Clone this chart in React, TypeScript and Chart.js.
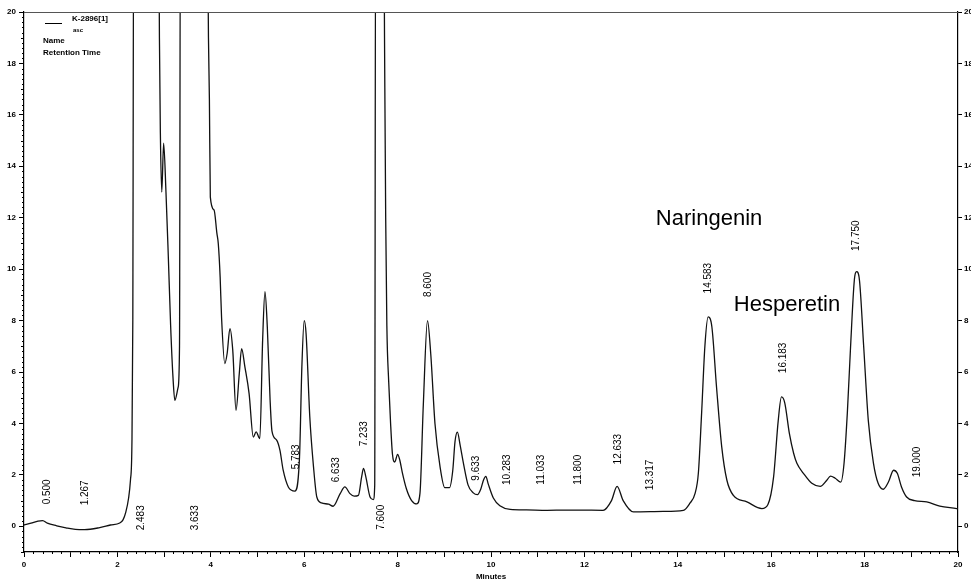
import { useEffect, useRef } from 'react';
import { Chart, registerables } from 'chart.js';

Chart.register(...registerables);

// Retention time (minutes) and detector signal
const times = [
  0, 0.15, 0.3, 0.4, 0.5, 0.7, 0.9, 1.1, 1.3, 1.6, 1.85, 2.05, 2.12, 2.18, 2.24, 2.28, 2.31, 2.33, 2.35,
  2.88, 2.9, 2.92, 2.95, 2.99, 3.04, 3.09, 3.14, 3.19, 3.23, 3.3, 3.33, 3.35,
  3.92, 3.95, 3.97, 3.99, 4.07, 4.13, 4.16, 4.2, 4.23, 4.3, 4.35, 4.41, 4.47, 4.54, 4.61, 4.66, 4.73, 4.82,
  4.91, 4.97, 5.05, 5.11, 5.16, 5.21, 5.27, 5.31, 5.41, 5.48, 5.55, 5.66, 5.8, 5.9, 5.95, 6.0, 6.04, 6.12,
  6.2, 6.27, 6.37, 6.52, 6.62, 6.77, 6.87, 6.98, 7.07, 7.16, 7.23, 7.27, 7.32, 7.41, 7.48, 7.51, 7.53,
  7.7, 7.72, 7.745, 7.77, 7.81, 7.85, 7.89, 7.94, 8.0, 8.05, 8.1, 8.19, 8.3, 8.41, 8.48, 8.55, 8.64, 8.71,
  8.8, 8.91, 9.01, 9.11, 9.18, 9.23, 9.28, 9.34, 9.41, 9.51, 9.62, 9.71, 9.78, 9.84, 9.89, 9.94, 10.05,
  10.19, 10.41, 10.76, 11.2, 11.6, 11.9, 12.4, 12.58, 12.7, 12.83, 13.05, 13.69, 14.12, 14.26, 14.37,
  14.44, 14.51, 14.58, 14.65, 14.73, 14.83, 14.94, 15.05, 15.19, 15.48, 15.8, 15.93, 16.05, 16.15, 16.22,
  16.29, 16.39, 16.48, 16.55, 16.69, 16.87, 17.05, 17.19, 17.27, 17.37, 17.49, 17.56, 17.63, 17.7, 17.78,
  17.83, 17.89, 17.98, 18.08, 18.19, 18.29, 18.4, 18.51, 18.62, 18.7, 18.79, 18.9, 19.07, 19.33, 19.61,
  19.97, 20,
];
const signal = [
  0.05, 0.12, 0.2, 0.22, 0.12, 0.02, -0.06, -0.12, -0.13, -0.06, 0.05, 0.13, 0.25, 0.55, 1.1, 1.8, 3.1, 8, 25,
  25, 19, 15.3, 13.0, 14.9, 13.0, 10.5, 7.8, 5.8, 4.9, 5.4, 7.0, 25,
  25, 19, 16.6, 12.8, 12.3, 11.4, 11.0, 9.7, 8.14, 6.33, 6.72, 7.69, 6.85, 4.51, 5.94, 6.91, 6.2, 5.16,
  3.47, 3.67, 3.41, 7.24, 9.12, 7.75, 4.9, 3.7, 3.35, 2.96, 2.18, 1.53, 1.37, 2.7, 6.2, 8.0, 7.5, 4.25,
  2.3, 1.14, 0.91, 0.86, 0.78, 1.27, 1.53, 1.27, 1.17, 1.2, 1.92, 2.25, 1.92, 1.14, 1.04, 1.6, 25,
  25, 19, 12, 7.8, 5.6, 4.0, 2.8, 2.5, 2.8, 2.55, 2.1, 1.45, 1.0, 0.87, 1.3, 4.7, 8.0, 6.7,
  4.0, 2.3, 1.5, 1.5, 2.15, 3.3, 3.66, 3.15, 2.45, 1.6, 1.3, 1.23, 1.44, 1.8, 1.94, 1.65, 1.1,
  0.8, 0.66, 0.64, 0.62, 0.63, 0.63, 0.62, 1.0, 1.55, 1.0, 0.56, 0.58, 0.62, 0.9, 1.28,
  2.06, 4.4, 7.0, 8.14, 7.75, 5.4, 3.1, 1.8, 1.2, 0.95, 0.69, 0.85, 1.9, 4.1, 5.03,
  4.8, 3.6, 2.84, 2.45, 2.06, 1.67, 1.55, 1.79, 1.95, 1.87, 1.72, 2.45, 4.4, 7.0, 9.57,
  9.9, 9.57, 7.0, 4.1, 2.45, 1.67, 1.44, 1.72, 2.18, 2.06, 1.53, 1.14, 1.0, 0.95, 0.78,
  0.69, 0.68,
];

// Retention-time annotations
const peakLabels = ['0.500', '1.267', '2.483', '3.633', '5.783', '6.633', '7.233', '7.600', '8.600', '9.633',
  '10.283', '11.033', '11.800', '12.633', '13.317', '14.583', '16.183', '17.750', '19.000'];
const peakLabelTimes = [0.49, 1.31, 2.52, 3.66, 5.82, 6.68, 7.28, 7.66, 8.66, 9.68,
  10.34, 11.07, 11.86, 12.73, 13.4, 14.65, 16.26, 17.83, 19.12];
const peakLabelLevels = [1.34, 1.3, 0.33, 0.33, 2.7, 2.2, 3.6, 0.35, 9.4, 2.26,
  2.2, 2.2, 2.2, 3.0, 2.0, 9.65, 6.55, 11.3, 2.5];

// Compound names
const compoundNames = ['Naringenin', 'Hesperetin'];
const compoundTimes = [13.53, 15.2];
const compoundLevels = [11.71, 8.37];

// Axis ticks
const xTickValues = Array.from({ length: 21 }, (_, i) => i);
const yTickValues = [0, 2, 4, 6, 8, 10, 12, 14, 16, 18, 20];
const yMin = -1;
const yMax = 20;

const FONT = 'Arial, "Liberation Sans", sans-serif';

const decorPlugin = {
  id: 'decor',
  afterDraw(chart: any) {
    const { ctx, chartArea, scales } = chart;
    const xs = scales.x;
    const yl = scales.y;
    ctx.save();
    // top frame
    ctx.strokeStyle = '#555';
    ctx.lineWidth = 1;
    ctx.beginPath();
    ctx.moveTo(chartArea.left, chartArea.top + 0.5);
    ctx.lineTo(chartArea.right, chartArea.top + 0.5);
    ctx.stroke();
    // minor ticks
    ctx.strokeStyle = '#000';
    ctx.beginPath();
    for (let i = 0; i <= 100; i++) {
      if (i % 5 === 0) continue;
      const px = Math.round(xs.getPixelForValue(i * 0.2)) + 0.5;
      ctx.moveTo(px, chartArea.bottom);
      ctx.lineTo(px, chartArea.bottom + 2);
    }
    for (let i = -5; i <= 100; i++) {
      if (i % 10 === 0) continue;
      const py = Math.round(yl.getPixelForValue(i * 0.2)) + 0.5;
      const len = i % 5 === 0 ? 3 : 2;
      ctx.moveTo(chartArea.left - len, py);
      ctx.lineTo(chartArea.left, py);
    }
    ctx.stroke();

    // peak retention-time labels
    ctx.fillStyle = '#000';
    ctx.font = `10px ${FONT}`;
    ctx.textAlign = 'center';
    ctx.textBaseline = 'middle';
    peakLabels.forEach((txt, i) => {
      const px = xs.getPixelForValue(peakLabelTimes[i]);
      const py = yl.getPixelForValue(peakLabelLevels[i]);
      ctx.save();
      ctx.translate(px, py);
      ctx.rotate(-Math.PI / 2);
      ctx.fillText(txt, 0, 0);
      ctx.restore();
    });

    // compound names
    ctx.font = `22px ${FONT}`;
    ctx.textAlign = 'left';
    ctx.textBaseline = 'alphabetic';
    compoundNames.forEach((name, i) => {
      ctx.fillText(name, xs.getPixelForValue(compoundTimes[i]), yl.getPixelForValue(compoundLevels[i]));
    });

    // legend block
    const lx = chartArea.left + 21;
    ctx.beginPath();
    ctx.moveTo(lx, chartArea.top + 11.5);
    ctx.lineTo(lx + 17, chartArea.top + 11.5);
    ctx.stroke();
    ctx.font = `bold 8px ${FONT}`;
    ctx.textBaseline = 'middle';
    ctx.fillText('K-2896[1]', lx + 27, chartArea.top + 7);
    ctx.font = `bold 6px ${FONT}`;
    ctx.fillText('asc', lx + 28, chartArea.top + 18);
    ctx.font = `bold 8px ${FONT}`;
    ctx.fillText('Name', chartArea.left + 19, chartArea.top + 29);
    ctx.fillText('Retention Time', chartArea.left + 19, chartArea.top + 41);
    ctx.restore();
  },
};

export default function App() {
  const canvasRef = useRef<HTMLCanvasElement | null>(null);

  useEffect(() => {
    const canvas = canvasRef.current;
    if (!canvas) return;
    const data = times.map((t, i) => ({ x: t, y: signal[i] }));
    const tickFont = { family: FONT, size: 8, weight: 'bold' as const };
    const chart = new Chart(canvas, {
      type: 'line',
      data: {
        datasets: [
          {
            data,
            borderColor: '#111',
            borderWidth: 1.3,
            pointRadius: 0,
            fill: false,
            cubicInterpolationMode: 'monotone',
          },
        ],
      },
      options: {
        animation: false,
        responsive: false,
        maintainAspectRatio: false,
        parsing: false as any,
        layout: { padding: { top: 12, left: 0, right: 0, bottom: 0 } },
        plugins: { legend: { display: false }, tooltip: { enabled: false } },
        scales: {
          x: {
            type: 'linear',
            min: 0,
            max: 20,
            afterBuildTicks: (s: any) => {
              s.ticks = xTickValues.map((v) => ({ value: v }));
            },
            afterFit: (s: any) => {
              s.height = 31;
            },
            grid: { drawOnChartArea: false, drawTicks: true, tickLength: 5, color: '#000', tickColor: '#000' },
            border: { display: true, color: '#000', width: 1.2 },
            ticks: {
              autoSkip: false,
              maxRotation: 0,
              padding: 3,
              color: '#000',
              font: tickFont,
              callback: (v: any) => (Number(v) % 2 === 0 ? String(v) : ''),
            },
            title: {
              display: true,
              text: 'Minutes',
              color: '#000',
              font: { family: FONT, size: 8, weight: 'bold' },
              padding: { top: 0, bottom: 1 },
            },
          },
          y: {
            type: 'linear',
            position: 'left',
            min: yMin,
            max: yMax,
            afterBuildTicks: (s: any) => {
              s.ticks = yTickValues.map((v) => ({ value: v }));
            },
            afterFit: (s: any) => {
              s.width = 24;
            },
            grid: { drawOnChartArea: false, drawTicks: true, tickLength: 5, color: '#000', tickColor: '#000' },
            border: { display: true, color: '#000', width: 1.2 },
            ticks: { padding: 3, color: '#000', font: tickFont },
          },
          y2: {
            type: 'linear',
            position: 'right',
            min: yMin,
            max: yMax,
            afterBuildTicks: (s: any) => {
              s.ticks = yTickValues.map((v) => ({ value: v }));
            },
            afterFit: (s: any) => {
              s.width = 13;
            },
            grid: { drawOnChartArea: false, drawTicks: true, tickLength: 4, color: '#000', tickColor: '#000' },
            border: { display: true, color: '#000', width: 1.2 },
            ticks: { padding: 2, color: '#000', font: tickFont },
          },
        },
      },
      plugins: [decorPlugin],
    });
    return () => chart.destroy();
  }, []);

  return (
    <div style={{ position: 'absolute', left: 0, top: 0, width: 971, height: 583, overflow: 'hidden', background: '#fff' }}>
      <canvas ref={canvasRef} width={971} height={583} style={{ display: 'block' }} />
    </div>
  );
}
